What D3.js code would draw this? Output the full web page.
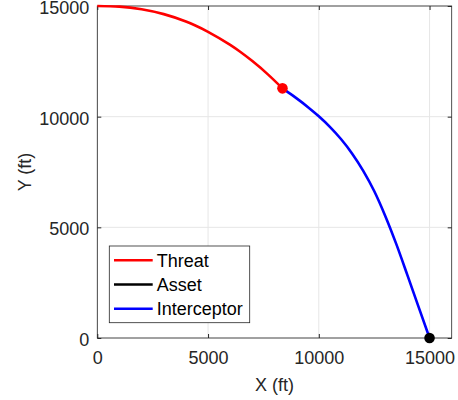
<!DOCTYPE html>
<html>
<head>
<meta charset="utf-8">
<script src="https://cdn.jsdelivr.net/npm/d3@7"></script>
<style>
  body { margin: 0; background: #fff; }
  svg { display: block; font-family: "Liberation Sans", Arial, sans-serif; }
</style>
</head>
<body>
<svg id="chart"></svg>
<script>
// Threat / interceptor engagement trajectories (in ft)
const threatX = [0, 1000, 2000, 3000, 4000, 4400, 5000, 6000, 6450, 7000, 7700, 8360];
const threatY = [15000, 14970, 14853, 14633, 14300, 14130, 13835, 13240, 12932, 12510, 11912, 11280];

const interceptorX = [8360, 8700, 9000, 9500, 10000, 10500, 11000, 11500, 12000, 12500, 13000, 13500, 14000, 14500, 15000];
const interceptorY = [11280, 11042, 10826, 10441, 10016, 9541, 8991, 8341, 7566, 6641, 5516, 4241, 2841, 1416, 0];

const assetX = [15000];
const assetY = [0];

const xTicks = [0, 5000, 10000, 15000];
const yTicks = [0, 5000, 10000, 15000];

const seriesNames = ["Threat", "Asset", "Interceptor"];
const seriesColors = ["#ff0000", "#000000", "#0000ff"];

(function () {
  const W = 458, H = 400;
  const M = { top: 6, right: 6.3, bottom: 62, left: 97.3 };
  const innerW = W - M.left - M.right;
  const innerH = H - M.top - M.bottom;
  const AX = "#262626";
  const FS = 18;

  const svg = d3.select("#chart").attr("width", W).attr("height", H);
  const g = svg.append("g").attr("transform", `translate(${M.left},${M.top})`);

  const x = d3.scaleLinear().domain([0, 16000]).range([0, innerW]);
  const y = d3.scaleLinear().domain([0, 15000]).range([innerH, 0]);

  // grid
  g.append("g").selectAll("line").data(xTicks).enter().append("line")
    .attr("x1", d => x(d)).attr("x2", d => x(d))
    .attr("y1", 0).attr("y2", innerH)
    .attr("stroke", "#e6e6e6").attr("stroke-width", 1);
  g.append("g").selectAll("line").data(yTicks).enter().append("line")
    .attr("y1", d => y(d)).attr("y2", d => y(d))
    .attr("x1", 0).attr("x2", innerW)
    .attr("stroke", "#e6e6e6").attr("stroke-width", 1);

  // axes with inward ticks, box on
  function styleAxis(sel) {
    sel.select(".domain").remove();
    sel.selectAll(".tick line").attr("stroke", AX);
    sel.selectAll(".tick text").attr("fill", AX).attr("font-size", FS)
      .attr("font-family", "Liberation Sans, Arial, sans-serif");
  }
  g.append("g").attr("transform", `translate(0,${innerH})`)
    .call(d3.axisBottom(x).tickValues(xTicks).tickSize(-4).tickPadding(13).tickFormat(d3.format("d")))
    .call(styleAxis)
    .selectAll(".tick text").attr("dy", "0.71em");
  g.append("g")
    .call(d3.axisTop(x).tickValues(xTicks).tickSize(-4).tickFormat(""))
    .call(styleAxis);
  g.append("g")
    .call(d3.axisLeft(y).tickValues(yTicks).tickSize(-4).tickPadding(8).tickFormat(d3.format("d")))
    .call(styleAxis)
    .selectAll(".tick text").attr("dy", "0.42em");
  g.append("g").attr("transform", `translate(${innerW},0)`)
    .call(d3.axisRight(y).tickValues(yTicks).tickSize(-4).tickFormat(""))
    .call(styleAxis);

  g.append("rect")
    .attr("x", 0).attr("y", 0).attr("width", innerW).attr("height", innerH)
    .attr("fill", "none").attr("stroke", AX).attr("stroke-width", 0.8);

  // trajectories
  const line = d3.line().x(d => x(d[0])).y(d => y(d[1])).curve(d3.curveMonotoneX);
  g.append("path")
    .datum(threatX.map((v, i) => [v, threatY[i]]))
    .attr("d", line).attr("fill", "none")
    .attr("stroke", seriesColors[0]).attr("stroke-width", 2.6);
  g.append("path")
    .datum(interceptorX.map((v, i) => [v, interceptorY[i]]))
    .attr("d", line).attr("fill", "none")
    .attr("stroke", seriesColors[2]).attr("stroke-width", 2.6);

  // intercept point (end of threat) and asset
  g.append("circle")
    .attr("cx", x(threatX[threatX.length - 1])).attr("cy", y(threatY[threatY.length - 1]))
    .attr("r", 5.3).attr("fill", seriesColors[0]);
  g.append("circle")
    .attr("cx", x(assetX[0])).attr("cy", y(assetY[0]))
    .attr("r", 5.3).attr("fill", seriesColors[1]);

  // axis labels
  svg.append("text")
    .attr("x", M.left + innerW / 2).attr("y", 391)
    .attr("text-anchor", "middle").attr("font-size", FS).attr("fill", AX)
    .text("X (ft)");
  svg.append("text")
    .attr("transform", `translate(31,${M.top + innerH / 2}) rotate(-90)`)
    .attr("text-anchor", "middle").attr("font-size", FS).attr("fill", AX)
    .text("Y (ft)");

  // legend
  const leg = svg.append("g").attr("transform", "translate(109.3,246)");
  leg.append("rect")
    .attr("x", 0).attr("y", 0).attr("width", 140.4).attr("height", 76.7)
    .attr("fill", "#fff").attr("stroke", AX).attr("stroke-width", 0.8);
  seriesNames.forEach((name, i) => {
    const cy = 14.3 + i * 24.2;
    leg.append("line")
      .attr("x1", 4.7).attr("x2", 43.4).attr("y1", cy).attr("y2", cy)
      .attr("stroke", seriesColors[i]).attr("stroke-width", 2.6);
    leg.append("text")
      .attr("x", 47.4).attr("y", cy).attr("dy", "0.35em")
      .attr("font-size", FS).attr("fill", "#000")
      .text(name);
  });
})();
</script>
</body>
</html>
